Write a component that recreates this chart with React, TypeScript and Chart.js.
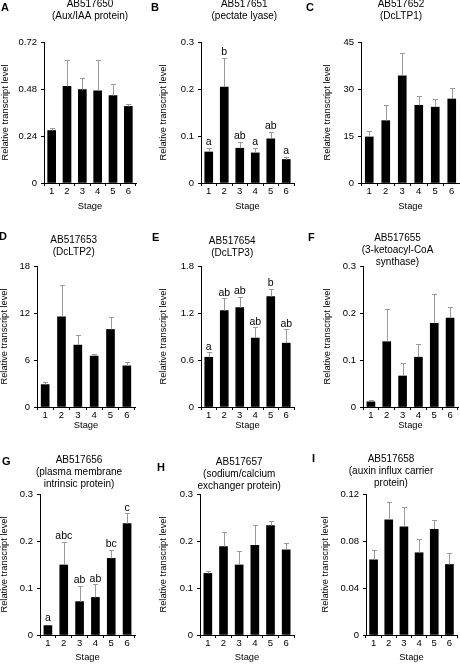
import React, { useEffect, useRef } from 'react';
import { Chart, registerables } from 'chart.js';

Chart.register(...registerables);

const FONT = '"Liberation Sans", Arial, Helvetica, sans-serif';
Chart.defaults.font.family = FONT;
Chart.defaults.color = '#000';

// ---------- data ----------
const stages = ['1', '2', '3', '4', '5', '6'];

const aTitle = ['AB517650', '(Aux/IAA protein)'];
const aMeans = [0.268, 0.493, 0.477, 0.471, 0.446, 0.391];
const aUpper = [0.283, 0.630, 0.538, 0.626, 0.504, 0.403];
const aTicks = [0, 0.24, 0.48, 0.72];
const aTickLabels = ['0', '0.24', '0.48', '0.72'];

const bTitle = ['AB517651', '(pectate lyase)'];
const bMeans = [0.066, 0.204, 0.074, 0.064, 0.094, 0.050];
const bUpper = [0.075, 0.267, 0.088, 0.075, 0.109, 0.056];
const bLetters = ['a', 'b', 'ab', 'a', 'ab', 'a'];
const bTicks = [0, 0.1, 0.2, 0.3];
const bTickLabels = ['0', '0.1', '0.2', '0.3'];

const cTitle = ['AB517652', '(DcLTP1)'];
const cMeans = [14.7, 19.9, 34.2, 24.8, 24.2, 26.8];
const cUpper = [16.6, 25.0, 41.6, 27.8, 26.9, 30.4];
const cTicks = [0, 15, 30, 45];
const cTickLabels = ['0', '15', '30', '45'];

const dTitle = ['AB517653', '(DcLTP2)'];
const dMeans = [2.86, 11.5, 7.9, 6.5, 9.9, 5.25];
const dUpper = [3.16, 15.6, 9.2, 6.75, 11.5, 5.75];
const dTicks = [0, 6, 12, 18];
const dTickLabels = ['0', '6', '12', '18'];

const eTitle = ['AB517654', '(DcLTP3)'];
const eMeans = [0.635, 1.23, 1.27, 0.88, 1.41, 0.815];
const eUpper = [0.70, 1.39, 1.41, 1.02, 1.51, 0.99];
const eLetters = ['a', 'ab', 'ab', 'ab', 'b', 'ab'];
const eTicks = [0, 0.6, 1.2, 1.8];
const eTickLabels = ['0', '0.6', '1.2', '1.8'];

const fTitle = ['AB517655', '(3-ketoacyl-CoA', 'synthase)'];
const fMeans = [0.011, 0.139, 0.066, 0.106, 0.178, 0.189];
const fUpper = [0.014, 0.209, 0.093, 0.134, 0.241, 0.213];
const fTicks = [0, 0.1, 0.2, 0.3];
const fTickLabels = ['0', '0.1', '0.2', '0.3'];

const gTitle = ['AB517656', '(plasma membrane', 'intrinsic protein)'];
const gMeans = [0.020, 0.149, 0.071, 0.080, 0.163, 0.237];
const gUpper = [0.020, 0.198, 0.105, 0.108, 0.181, 0.259];
const gLetters = ['a', 'abc', 'ab', 'ab', 'bc', 'c'];
const gTicks = [0, 0.1, 0.2, 0.3];
const gTickLabels = ['0', '0.1', '0.2', '0.3'];

const hTitle = ['AB517657', '(sodium/calcium', 'exchanger protein)'];
const hMeans = [0.131, 0.188, 0.149, 0.191, 0.233, 0.181];
const hUpper = [0.137, 0.220, 0.178, 0.234, 0.242, 0.196];
const hTicks = [0, 0.1, 0.2, 0.3];
const hTickLabels = ['0', '0.1', '0.2', '0.3'];

const iTitle = ['AB517658', '(auxin influx carrier', 'protein)'];
const iMeans = [0.064, 0.098, 0.092, 0.070, 0.090, 0.060];
const iUpper = [0.072, 0.113, 0.109, 0.082, 0.098, 0.070];
const iTicks = [0, 0.04, 0.08, 0.12];
const iTickLabels = ['0', '0.04', '0.08', '0.12'];

const yAxisTitle = 'Relative transcript level';
const xAxisTitle = 'Stage';

// ---------- layout (positions / styles only) ----------
const colLeft = [-2, 148, 303];
const colRight = [148, 303, 462];
const rowTop = [0, 218, 443];
const rowBottom = [218, 443, 665];
const rowPlotTop = [42, 266, 494];
const rowPlotBottom = [183, 407, 635];
const rowStageY = [206.5, 425, 657.5];

const TICK_SIZE = 9.5;
const AXIS_TITLE_SIZE = 9.3;
const TITLE_SIZE = 10;
const TITLE_LINE = 12;
const SIG_SIZE = 10.5;
const ERR_COLOR = '#9a9a9a';

type PanelDef = {
  letter: string;
  title: string[];
  means: number[];
  upper: number[];
  sig?: string[];
  ticks: number[];
  tickLabels: string[];
  col: number;
  row: number;
  plotLeft: number;
  plotRight: number;
  yTitleX: number;
  titleX: number;
  titleY: number;
  letterX: number;
  letterY: number;
};

const panels: PanelDef[] = [
  { letter: 'A', title: aTitle, means: aMeans, upper: aUpper, ticks: aTicks, tickLabels: aTickLabels,
    col: 0, row: 0, plotLeft: 44, plotRight: 136, yTitleX: 5, titleX: 90, titleY: 4.5, letterX: 1, letterY: 10.5 },
  { letter: 'B', title: bTitle, means: bMeans, upper: bUpper, sig: bLetters, ticks: bTicks, tickLabels: bTickLabels,
    col: 1, row: 0, plotLeft: 201, plotRight: 294, yTitleX: 163.3, titleX: 244.3, titleY: 4.5, letterX: 151, letterY: 10.5 },
  { letter: 'C', title: cTitle, means: cMeans, upper: cUpper, ticks: cTicks, tickLabels: cTickLabels,
    col: 2, row: 0, plotLeft: 361, plotRight: 460, yTitleX: 327.7, titleX: 401, titleY: 4.5, letterX: 306, letterY: 10.5 },
  { letter: 'D', title: dTitle, means: dMeans, upper: dUpper, ticks: dTicks, tickLabels: dTickLabels,
    col: 0, row: 1, plotLeft: 37, plotRight: 135, yTitleX: 4, titleX: 73.7, titleY: 240, letterX: -1, letterY: 239.5 },
  { letter: 'E', title: eTitle, means: eMeans, upper: eUpper, sig: eLetters, ticks: eTicks, tickLabels: eTickLabels,
    col: 1, row: 1, plotLeft: 201, plotRight: 294, yTitleX: 163.3, titleX: 232.2, titleY: 241, letterX: 152, letterY: 240.5 },
  { letter: 'F', title: fTitle, means: fMeans, upper: fUpper, ticks: fTicks, tickLabels: fTickLabels,
    col: 2, row: 1, plotLeft: 363, plotRight: 458, yTitleX: 327.7, titleX: 397.5, titleY: 238, letterX: 308, letterY: 241 },
  { letter: 'G', title: gTitle, means: gMeans, upper: gUpper, sig: gLetters, ticks: gTicks, tickLabels: gTickLabels,
    col: 0, row: 2, plotLeft: 40, plotRight: 135, yTitleX: 4, titleX: 79, titleY: 460, letterX: 2, letterY: 465 },
  { letter: 'H', title: hTitle, means: hMeans, upper: hUpper, ticks: hTicks, tickLabels: hTickLabels,
    col: 1, row: 2, plotLeft: 200, plotRight: 294, yTitleX: 163.3, titleX: 239.2, titleY: 462.5, letterX: 157, letterY: 471 },
  { letter: 'I', title: iTitle, means: iMeans, upper: iUpper, ticks: iTicks, tickLabels: iTickLabels,
    col: 2, row: 2, plotLeft: 366, plotRight: 457, yTitleX: 325, titleX: 391, titleY: 459.5, letterX: 312, letterY: 462 },
];

function Panel({ p }: { p: PanelDef }) {
  const ref = useRef<HTMLCanvasElement>(null);
  const cl = colLeft[p.col];
  const cr = colRight[p.col];
  const ct = rowTop[p.row];
  const cb = rowBottom[p.row];
  const W = cr - cl;
  const H = cb - ct;

  useEffect(() => {
    if (!ref.current) return;
    const plotTop = rowPlotTop[p.row];
    const plotBottom = rowPlotBottom[p.row];
    const stageY = rowStageY[p.row];
    const lh = AXIS_TITLE_SIZE * 1.2;

    const overlay = {
      id: 'overlay',
      afterDatasetsDraw(chart: any) {
        const ctx = chart.ctx;
        const meta = chart.getDatasetMeta(0);
        const ys = chart.scales.y;
        ctx.save();
        ctx.strokeStyle = ERR_COLOR;
        ctx.lineWidth = 1;
        p.means.forEach((m, i) => {
          const bar = meta.data[i];
          if (!bar) return;
          const x = Math.round(bar.x) + 0.5;
          const y0 = ys.getPixelForValue(m);
          const y1 = Math.round(ys.getPixelForValue(p.upper[i])) + 0.5;
          if (p.upper[i] > m) {
            ctx.beginPath();
            ctx.moveTo(x, y0);
            ctx.lineTo(x, y1);
            ctx.moveTo(x - 2.5, y1);
            ctx.lineTo(x + 2.5, y1);
            ctx.stroke();
          }
        });
        if (p.sig) {
          ctx.fillStyle = '#000';
          ctx.font = `${SIG_SIZE}px ${FONT}`;
          ctx.textAlign = 'center';
          ctx.textBaseline = 'alphabetic';
          p.sig.forEach((s, i) => {
            const bar = meta.data[i];
            if (!bar) return;
            const top = ys.getPixelForValue(Math.max(p.upper[i], p.means[i]));
            const gap = p.upper[i] > p.means[i] ? 2.5 : 4.5;
            ctx.fillText(s, bar.x, top - gap);
          });
        }
        ctx.restore();
      },
      afterDraw(chart: any) {
        const ctx = chart.ctx;
        ctx.save();
        ctx.fillStyle = '#000';
        ctx.font = `bold 11px ${FONT}`;
        ctx.textAlign = 'left';
        ctx.textBaseline = 'alphabetic';
        ctx.fillText(p.letter, p.letterX - cl, p.letterY - ct);
        ctx.font = `${TITLE_SIZE}px ${FONT}`;
        ctx.textAlign = 'center';
        ctx.textBaseline = 'middle';
        p.title.forEach((t, k) => {
          ctx.fillText(t, p.titleX - cl, p.titleY - ct + k * TITLE_LINE);
        });
        ctx.restore();
      },
    };

    const chart = new Chart(ref.current, {
      type: 'bar',
      data: {
        labels: stages,
        datasets: [
          {
            data: p.means,
            backgroundColor: '#000',
            borderWidth: 0,
            barThickness: 8,
          },
        ],
      },
      options: {
        animation: false,
        responsive: false,
        devicePixelRatio: 1,
        layout: {
          padding: { left: 0, top: plotTop - ct, right: cr - p.plotRight, bottom: 0 },
        },
        plugins: {
          legend: { display: false },
          tooltip: { enabled: false },
          title: { display: false },
        },
        scales: {
          x: {
            offset: true,
            grid: {
              display: true,
              drawOnChartArea: false,
              drawTicks: true,
              tickLength: 3,
              color: '#000',
              offset: true,
            },
            border: { display: true, color: '#000', width: 1 },
            ticks: {
              padding: 0,
              maxRotation: 0,
              autoSkip: false,
              color: '#000',
              font: { size: TICK_SIZE },
            },
            title: {
              display: true,
              text: xAxisTitle,
              color: '#000',
              font: { size: AXIS_TITLE_SIZE },
              padding: { top: 0, bottom: cb - stageY - lh / 2 },
            },
            afterFit: (s: any) => {
              s.height = cb - plotBottom;
            },
          },
          y: {
            min: 0,
            max: p.ticks[p.ticks.length - 1],
            afterBuildTicks: (s: any) => {
              s.ticks = p.ticks.map((v) => ({ value: v }));
            },
            grid: {
              display: true,
              drawOnChartArea: false,
              drawTicks: true,
              tickLength: 3,
              color: '#000',
            },
            border: { display: true, color: '#000', width: 1 },
            ticks: {
              padding: 4,
              color: '#000',
              font: { size: TICK_SIZE },
              callback: (v: any) => {
                const idx = p.ticks.findIndex((t) => Math.abs(t - Number(v)) < 1e-9);
                return idx >= 0 ? p.tickLabels[idx] : '';
              },
            },
            title: {
              display: true,
              text: yAxisTitle,
              color: '#000',
              font: { size: AXIS_TITLE_SIZE },
              padding: { top: p.yTitleX - cl - lh / 2, bottom: 0 },
            },
            afterFit: (s: any) => {
              s.width = p.plotLeft - cl;
            },
          },
        },
      },
      plugins: [overlay as any],
    } as any);

    return () => chart.destroy();
  }, []);

  return (
    <canvas
      ref={ref}
      width={W}
      height={H}
      style={{ position: 'absolute', left: cl, top: ct, width: W, height: H }}
    />
  );
}

export default function App() {
  return (
    <div
      style={{
        position: 'absolute',
        left: 0,
        top: 0,
        width: 460,
        height: 665,
        overflow: 'hidden',
        background: '#fff',
      }}
    >
      {panels.map((p) => (
        <Panel key={p.letter} p={p} />
      ))}
    </div>
  );
}
